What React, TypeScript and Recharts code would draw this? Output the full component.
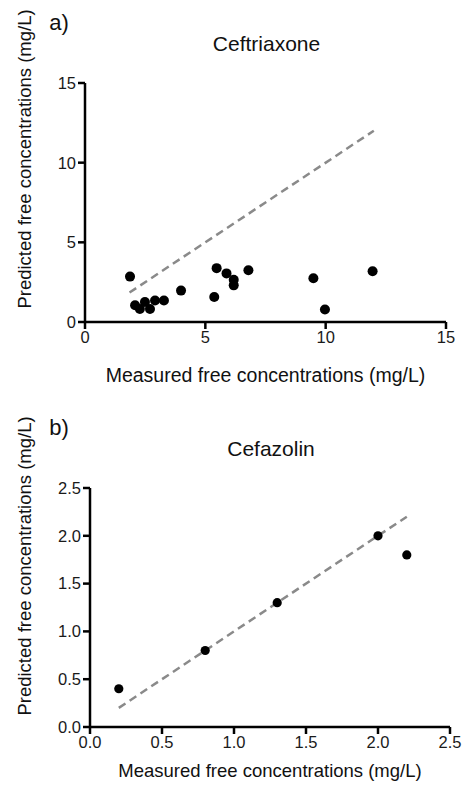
import React from 'react';
import { ScatterChart, Scatter, XAxis, YAxis, ReferenceLine } from 'recharts';

const FONT = '"Liberation Sans", Arial, Helvetica, sans-serif';

// panel a) Ceftriaxone
const ceftriaxoneMeasured = [1.87, 2.08, 2.28, 2.49, 2.7, 2.91, 3.28, 3.99, 5.37, 5.47, 5.88, 6.18, 6.18, 6.79, 9.49, 9.97, 11.95];
const ceftriaxonePredicted = [2.85, 1.05, 0.82, 1.25, 0.82, 1.35, 1.35, 1.97, 1.57, 3.38, 3.05, 2.65, 2.3, 3.25, 2.75, 0.78, 3.18];
const ceftriaxoneTicks = [0, 5, 10, 15];
const ceftriaxoneIdentity = [1.85, 12];

// panel b) Cefazolin
const cefazolinMeasured = [0.2, 0.8, 1.3, 2.0, 2.2];
const cefazolinPredicted = [0.4, 0.8, 1.3, 2.0, 1.8];
const cefazolinTicks = [0, 0.5, 1.0, 1.5, 2.0, 2.5];
const cefazolinIdentity = [0.2, 2.2];

const makeDot = (r: number) => (props: any) => <circle cx={props.cx} cy={props.cy} r={r} fill="#000" />;

const axisProps = {
  stroke: '#000',
  tickSize: 7,
  tickMargin: 2,
  axisLine: { stroke: '#000', strokeWidth: 2.5 },
  tickLine: { stroke: '#000', strokeWidth: 2.5 },
  tick: { fill: '#1a1a1a', fontSize: 16.5, fontFamily: FONT },
};

const textStyle: React.CSSProperties = {
  position: 'absolute',
  fontFamily: FONT,
  color: '#111',
  whiteSpace: 'nowrap',
  transform: 'translate(-50%, -50%)',
};

interface PanelProps {
  letter: string;
  title: string;
  xs: number[];
  ys: number[];
  ticks: number[];
  identity: number[];
  fmt: (v: number) => string;
  dotR: number;
  plotLeft: number;
  plotRight: number;
  plotTop: number;
  plotBottom: number;
  titleY: number;
  yLabelY: number;
  xLabelY: number;
  labelSize: number;
}

const Panel: React.FC<PanelProps> = (p) => {
  const data = p.xs.map((x, i) => ({ x, y: p.ys[i] }));
  const max = p.ticks[p.ticks.length - 1];
  const H = 395;
  const xAxisH = 50;
  return (
    <div style={{ position: 'relative', width: 463, height: H }}>
      <ScatterChart
        width={463}
        height={H}
        margin={{ top: p.plotTop, right: 463 - p.plotRight, left: 0, bottom: H - p.plotBottom - xAxisH }}
      >
        <XAxis
          type="number"
          dataKey="x"
          domain={[0, max]}
          ticks={p.ticks}
          tickFormatter={p.fmt}
          height={xAxisH}
          interval={0}
          {...axisProps}
        />
        <YAxis
          type="number"
          dataKey="y"
          domain={[0, max]}
          ticks={p.ticks}
          tickFormatter={p.fmt}
          width={p.plotLeft}
          interval={0}
          {...axisProps}
        />
        <Scatter data={data} shape={makeDot(p.dotR)} isAnimationActive={false} />
        <ReferenceLine
          segment={[
            { x: p.identity[0], y: p.identity[0] },
            { x: p.identity[1], y: p.identity[1] },
          ]}
          stroke="#8a8a8a"
          strokeWidth={2.5}
          strokeDasharray="8 5"
        />
      </ScatterChart>
      <div style={{ ...textStyle, left: 59, top: p.titleY - 21, fontSize: 22 }}>{p.letter}</div>
      <div style={{ ...textStyle, left: (p.plotLeft + p.plotRight) / 2 + 1, top: p.titleY, fontSize: 21 }}>{p.title}</div>
      <div style={{ ...textStyle, left: 25, top: p.yLabelY, fontSize: 18.5, transform: 'translate(-50%, -50%) rotate(-90deg)' }}>
        Predicted free concentrations (mg/L)
      </div>
      <div style={{ ...textStyle, left: (p.plotLeft + p.plotRight) / 2, top: p.xLabelY, fontSize: p.labelSize }}>
        Measured free concentrations (mg/L)
      </div>
    </div>
  );
};

export default function App() {
  return (
    <div style={{ position: 'absolute', left: 0, top: 0, width: 463, height: 790, background: '#fff' }}>
      <Panel
        letter="a)"
        title="Ceftriaxone"
        xs={ceftriaxoneMeasured}
        ys={ceftriaxonePredicted}
        ticks={ceftriaxoneTicks}
        identity={ceftriaxoneIdentity}
        fmt={(v) => String(v)}
        dotR={5}
        plotLeft={85}
        plotRight={446}
        plotTop={83}
        plotBottom={322}
        titleY={44}
        yLabelY={159}
        xLabelY={375}
        labelSize={19.5}
      />
      <Panel
        letter="b)"
        title="Cefazolin"
        xs={cefazolinMeasured}
        ys={cefazolinPredicted}
        ticks={cefazolinTicks}
        identity={cefazolinIdentity}
        fmt={(v) => v.toFixed(1)}
        dotR={4.6}
        plotLeft={90}
        plotRight={450}
        plotTop={93}
        plotBottom={332}
        titleY={54}
        yLabelY={171}
        xLabelY={376}
        labelSize={18.5}
      />
    </div>
  );
}
